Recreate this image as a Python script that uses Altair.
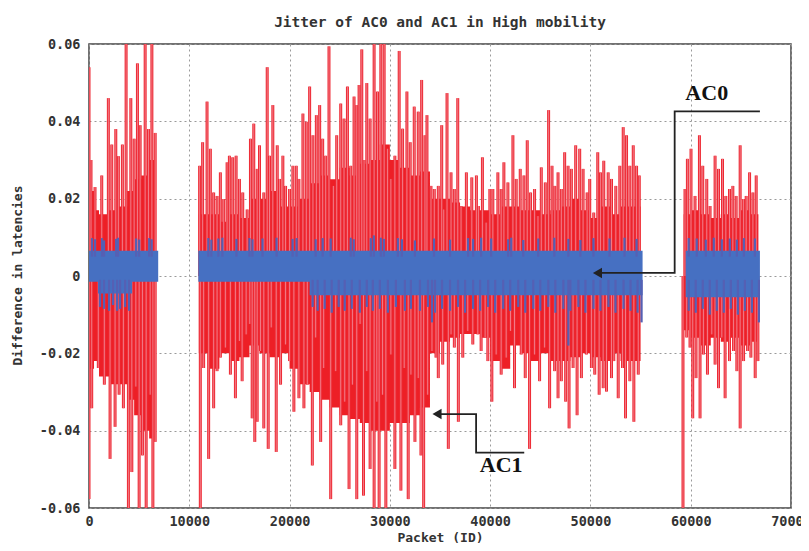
import altair as alt
import pandas as pd

TITLE = "Jitter of AC0 and AC1 in High mobility"
X_TITLE = "Packet (ID)"
Y_TITLE = "Difference in latencies"
X_TICKS = [0, 10000, 20000, 30000, 40000, 50000, 60000, 70000]
Y_TICKS = [-0.06, -0.04, -0.02, 0.0, 0.02, 0.04, 0.06]

# AC1 (red) upward spikes: packet id, jitter peak
red_up_x = [0, 200, 600, 1270, 1930, 2270, 2670, 2930, 3330, 3700, 4170, 4500, 4830, 5100, 5600, 5930, 6270, 6600,
            11030, 11330, 11770, 12100, 12430, 12770, 13100, 13430, 13770, 14000, 14330, 14670, 15000, 15330, 15770,
            16100, 16430, 16770, 17000, 17430, 17770, 18000, 18330, 18770, 19000, 19330, 19600, 20000, 20330, 20670,
            20930, 21330, 21670, 22000, 22330, 22670, 23000, 23300, 23600, 23930, 24370, 24700, 25100, 25430, 25770,
            26100, 26430, 26700, 26930, 27200, 27430, 27700, 28030, 28430, 28770, 29100, 29430, 29770, 30100, 30500,
            30930, 31270, 31700, 32030, 32430, 32830, 33170, 33500, 33700, 34100, 34430, 34830, 35170, 35370, 35700,
            36100, 36430, 36770, 37100, 37630, 38170, 38630, 38830, 39230, 39600, 39970, 40270, 40770, 41100, 41370,
            41770, 42270, 42600, 43000, 43370, 43700, 44030, 44430, 44770, 45100, 45500, 45830, 46170, 46450, 46770,
            47100, 47430, 47770, 48100, 48530, 48930, 49270, 49670, 49930, 50330, 50730, 51000, 51330, 51770, 52100,
            52530, 52930, 53270, 53600, 53930, 54270, 54600, 54870,
            59430, 59670, 60030, 60430, 60870, 61200, 61600, 61930, 62430, 62770, 63170, 63500, 63870, 64200, 64530,
            64930, 65270, 65530, 65870, 66200, 66530]
red_up_y = [0.054, 0.030, 0.023, 0.026, 0.046, 0.034, 0.038, 0.031, 0.034, 0.062, 0.046, 0.0355, 0.055, 0.039, 0.062, 0.038, 0.062, 0.037,
            0.0285, 0.0346, 0.0451, 0.0329, 0.0216, 0.0207, 0.0268, 0.0199, 0.0294, 0.0311, 0.0307, 0.0311, 0.0251, 0.0216, 0.0172,
            0.0355, 0.0394, 0.0277, 0.0338, 0.0216, 0.054, 0.0311, 0.0442, 0.0338, 0.0251, 0.0311, 0.0233, 0.0225, 0.0285, 0.0285,
            0.0251, 0.042, 0.0399, 0.049, 0.0364, 0.0416, 0.0442, 0.0355, 0.0311, 0.0594, 0.0233, 0.0364, 0.0446, 0.0407, 0.049,
            0.0285, 0.0464, 0.0442, 0.0494, 0.0586, 0.030, 0.0499, 0.0407, 0.062, 0.0477, 0.062, 0.062, 0.0329, 0.0251, 0.0311,
            0.0582, 0.0381, 0.0477, 0.0346, 0.0438, 0.0425, 0.0507, 0.0364, 0.0416, 0.0233, 0.0225, 0.0233, 0.039, 0.0172, 0.0473,
            0.0268, 0.0225, 0.046, 0.0181, 0.0268, 0.0255, 0.026, 0.0181, 0.0307, 0.0138, 0.0225, 0.0225, 0.0268, 0.0225, 0.0294,
            0.0242, 0.0364, 0.0251, 0.0277, 0.026, 0.0351, 0.0216, 0.0225, 0.0155, 0.0281, 0.0242, 0.0429, 0.0285, 0.0233, 0.0268,
            0.0225, 0.032, 0.0285, 0.0277, 0.0338, 0.0329, 0.0277, 0.0216, 0.0251, 0.0164, 0.032, 0.0268, 0.0298, 0.0268, 0.0251,
            0.0233, 0.0285, 0.0385, 0.0364, 0.0285, 0.0338, 0.0285, 0.026,
            0.0225, 0.0303, 0.0329, 0.0207, 0.0364, 0.0285, 0.0251, 0.0181, 0.0311, 0.0277, 0.0303, 0.0207, 0.0225, 0.0233, 0.0207,
            0.0338, 0.0199, 0.0207, 0.0268, 0.0216, 0.026]

# AC1 (red) downward spikes
red_dn_x = [0, 270, 930, 1530, 2100, 2600, 3000, 3430, 3930, 4270, 4670, 5000, 5330, 5700, 6100, 6370, 6600,
            11100, 11430, 11930, 12430, 12770, 13100, 13600, 14100, 14600, 15000, 15270, 15670, 16030, 16270, 16530,
            16770, 17100, 17430, 17870, 18170, 18670, 19100, 19600, 20000, 20430, 20930, 21430, 21770, 22270, 22600,
            23100, 23400, 24100, 24600, 25100, 25500, 25930, 26270, 26700, 27030, 27370, 27700, 28030, 28430, 28700,
            28930, 29270, 29600, 30100, 30500, 31100, 31430, 31830, 32100, 32500, 32830, 33100, 33370, 33770, 34200,
            34600, 34830, 35270, 35830, 36100, 36430, 36830, 37270, 37770, 38270, 38770, 39100, 39500, 39770, 40170,
            40600, 41100, 41600, 42030, 42430, 43100, 43500, 43930, 44430, 44930, 45430, 45930, 46430, 46770, 47100,
            47530, 47870, 48270, 48670, 49100, 49600, 50100, 50430, 50870, 51270, 51600, 52100, 52330, 52770, 53200,
            53500, 53930, 54330, 54770,
            59230, 59600, 59930, 60200, 60530, 60930, 61270, 61670, 62100, 62430, 62770, 63100, 63430, 63870, 64270,
            64600, 64930, 65270, 65670, 66000, 66430, 66700]
red_dn_y = [-0.0577, -0.0342, -0.0238, -0.0281, -0.0473, -0.039, -0.0307, -0.0342, -0.062, -0.0507, -0.0286, -0.062, -0.0464, -0.062, -0.0307, -0.062, -0.0429,
            -0.062, -0.0238, -0.0473, -0.0342, -0.0246, -0.0211, -0.0185, -0.0255, -0.0316, -0.0168, -0.0272, -0.0151, -0.0124, -0.0368, -0.0429,
            -0.0377, -0.0194, -0.0394, -0.0447, -0.0133, -0.0455, -0.0281, -0.0177, -0.022, -0.0351, -0.0316, -0.0342, -0.0281, -0.049, -0.0159,
            -0.0429, -0.0238, -0.0577, -0.0246, -0.0386, -0.0325, -0.0551, -0.0281, -0.0577, -0.0124, -0.0568, -0.0246, -0.0499, -0.062, -0.0325,
            -0.062, -0.0307, -0.062, -0.0203, -0.0499, -0.0555, -0.0238, -0.0577, -0.0255, -0.0429, -0.0264, -0.0464, -0.062, -0.0307, -0.0194,
            -0.0211, -0.0264, -0.0229, -0.0447, -0.0151, -0.0185, -0.0377, -0.0211, -0.0142, -0.0177, -0.0151, -0.0194, -0.0159, -0.022, -0.0325,
            -0.0203, -0.0255, -0.0211, -0.0142, -0.029, -0.0203, -0.0264, -0.0447, -0.0203, -0.0272, -0.0185, -0.0342, -0.0246, -0.0316, -0.0272,
            -0.0325, -0.0394, -0.0238, -0.036, -0.0264, -0.0203, -0.0238, -0.0255, -0.0307, -0.029, -0.0299, -0.0264, -0.022, -0.0316, -0.0238,
            -0.0368, -0.0272, -0.0377, -0.0255,
            -0.062, -0.0159, -0.0185, -0.0368, -0.0264, -0.0368, -0.0203, -0.0255, -0.0151, -0.0229, -0.029, -0.0159, -0.0316, -0.022, -0.0194,
            -0.0246, -0.0394, -0.022, -0.0194, -0.0211, -0.0264, -0.022]

# AC1 dense core envelope (segment, packet id, upper, lower)
core_seg = [1] * 10 + [2] * 45 + [3] * 9
core_x = [0, 500, 1000, 2000, 3000, 3800, 4500, 5200, 6000, 6650,
          10950, 12000, 13000, 14000, 15000, 16000, 17000, 18000, 19000, 20000, 21000, 22000, 23000, 24000, 25000,
          26000, 27000, 28000, 29000, 30000, 31000, 32000, 33000, 34000, 35000, 36000, 37000, 38000, 39000, 40000,
          41000, 42000, 43000, 44000, 45000, 46000, 47000, 48000, 49000, 50000, 51000, 52000, 53000, 54000, 55000,
          59300, 60000, 61000, 62000, 63000, 64000, 65000, 66000, 66750]
core_hi = [0.022, 0.017, 0.016, 0.017, 0.018, 0.022, 0.025, 0.026, 0.030, 0.032,
           0.016, 0.016, 0.014, 0.016, 0.015, 0.020, 0.020, 0.022, 0.018, 0.018, 0.020, 0.024, 0.026, 0.025, 0.028,
           0.026, 0.029, 0.030, 0.034, 0.030, 0.028, 0.026, 0.027, 0.020, 0.020, 0.019, 0.018, 0.017, 0.017, 0.016,
           0.018, 0.018, 0.017, 0.017, 0.016, 0.017, 0.018, 0.020, 0.017, 0.015, 0.018, 0.016, 0.018, 0.018, 0.016,
           0.016, 0.017, 0.016, 0.015, 0.016, 0.015, 0.017, 0.016, 0.016]
core_lo = [-0.024, -0.022, -0.026, -0.028, -0.028, -0.032, -0.036, -0.040, -0.042, -0.042,
           -0.020, -0.024, -0.020, -0.022, -0.021, -0.018, -0.020, -0.021, -0.020, -0.024, -0.028, -0.030, -0.032, -0.034, -0.036,
           -0.037, -0.038, -0.040, -0.040, -0.038, -0.038, -0.036, -0.034, -0.020, -0.017, -0.016, -0.015, -0.015, -0.016, -0.022,
           -0.024, -0.018, -0.020, -0.022, -0.020, -0.022, -0.022, -0.021, -0.020, -0.021, -0.022, -0.020, -0.022, -0.022, -0.021,
           -0.014, -0.016, -0.018, -0.016, -0.017, -0.016, -0.018, -0.017, -0.018]

# AC0 (blue) band (segment, packet id, upper, lower; step-after)
blue_seg = [1, 1, 1, 1, 2, 2, 2, 3, 3]
blue_x = [0, 900, 4300, 6900, 10900, 22000, 55200, 59500, 66900]
blue_hi = [0.0065, 0.0065, 0.0065, 0.0065, 0.0065, 0.0065, 0.0065, 0.0065, 0.0065]
blue_lo = [-0.0015, -0.0045, -0.0015, -0.0015, -0.0015, -0.005, -0.005, -0.0055, -0.0055]

# AC0 (blue) upward spikes
blue_up_x = [300, 600, 1300, 1500, 2700, 2900, 4700, 5000, 6000, 6250,
             11900, 12200, 12900, 13300, 14700, 16000, 16300, 17300, 18700, 20300, 20700, 22600, 23300,
             24100, 26100, 26400, 28100, 28400, 29100, 29400, 30800, 31200, 32500, 34400, 36000, 37800, 38300,
             39100, 40100, 41800, 42100, 43300, 44800, 46400, 47800, 49000, 50300, 51900, 53400, 54600,
             59800, 60600, 61500, 62300, 63100, 63900, 64600, 65300, 66400]
blue_up_y = [0.0098, 0.0095, 0.0098, 0.0092, 0.0096, 0.0099, 0.0097, 0.0094, 0.0098, 0.0095,
             0.0098, 0.0094, 0.0097, 0.0099, 0.0096, 0.0098, 0.0095, 0.0097, 0.0099, 0.0096, 0.0098, 0.0095, 0.0098,
             0.0097, 0.0099, 0.0095, 0.0098, 0.0105, 0.0099, 0.0096, 0.0098, 0.0095, 0.0092, 0.0097, 0.0094, 0.0098, 0.0096,
             0.0099, 0.0097, 0.0095, 0.0099, 0.0093, 0.0097, 0.0099, 0.0096, 0.0093, 0.0098, 0.0097, 0.0099, 0.0096,
             0.0098, 0.0097, 0.0094, 0.0099, 0.0095, 0.0097, 0.0094, 0.0098, 0.0097]

# AC0 (blue) downward spikes
blue_dn_x = [1100, 1500, 2000, 2400, 2800, 3100, 3600, 4000,
             22300, 22800, 23500, 24200, 24900, 25500, 26200, 27000, 27700, 28300, 29000, 29800, 30600, 31500,
             32100, 33000, 33800, 34200, 34500, 35200, 36000, 36800, 37500, 38300, 39000, 39800, 40500, 41300, 42000,
             42800, 43500, 44300, 45000, 45800, 46500, 47300, 47800, 48000, 48800, 49500, 50300, 51000, 51800, 52500,
             53300, 54000, 54700, 55100,
             59800, 60500, 61200, 61900, 62600, 63300, 64000, 64700, 65400, 66100, 66800]
blue_dn_y = [-0.008, -0.0085, -0.009, -0.0075, -0.009, -0.0085, -0.008, -0.009,
             -0.008, -0.009, -0.0085, -0.0095, -0.008, -0.009, -0.0085, -0.0095, -0.008, -0.009, -0.0085, -0.0095, -0.008, -0.009,
             -0.0085, -0.009, -0.008, -0.012, -0.0095, -0.0085, -0.009, -0.008, -0.0095, -0.0085, -0.009, -0.008, -0.0095, -0.0085, -0.009,
             -0.008, -0.0095, -0.0085, -0.009, -0.008, -0.0095, -0.0085, -0.018, -0.009, -0.008, -0.0095, -0.0085, -0.009, -0.008, -0.0095,
             -0.0085, -0.009, -0.0095, -0.012,
             -0.009, -0.0095, -0.0085, -0.010, -0.009, -0.0095, -0.0085, -0.010, -0.009, -0.0095, -0.012]

# Annotations
ann_text = ["AC0", "AC1"]
ann_x = [61600, 41100]
ann_y = [0.0472, -0.0490]
arrow_name = ["AC0", "AC0", "AC0", "AC0", "AC1", "AC1", "AC1", "AC1"]
arrow_i = [0, 1, 2, 3, 0, 1, 2, 3]
arrow_x = [66900, 58400, 58400, 50700, 43400, 38600, 38600, 34700]
arrow_y = [0.0426, 0.0426, 0.0008, 0.0008, -0.0457, -0.0457, -0.0357, -0.0357]
head_x = [50700, 34700]
head_y = [0.0008, -0.0357]

MONO = "DejaVu Sans Mono"
RED_CORE = "#ed1f26"
RED_SPIKE = "#ee2a34"
RED_HILITE = "#f27a86"
BLUE = "#4670c2"
BLUE_SPIKE = "#5560b4"

xs = alt.Scale(domain=[0, 70000], nice=False, zero=False)
ys = alt.Scale(domain=[-0.06, 0.06], nice=False, zero=False)

xaxis = alt.Axis(values=X_TICKS, format="d", grid=True, gridDash=[2, 3], gridColor="#9a9a9a", gridWidth=1,
                 ticks=False, domain=False, labelFont=MONO, labelFontWeight="bold", labelFontSize=13.5,
                 labelColor="#333333", labelPadding=6, labelFlush=False, labelOverlap=False,
                 titleFont=MONO, titleFontWeight="bold", titleFontSize=13, titleColor="#333333",
                 titleX=351, titleY=29, titleBaseline="middle", titleAlign="center")
yaxis = alt.Axis(values=Y_TICKS, grid=True, gridDash=[2, 3], gridColor="#9a9a9a", gridWidth=1,
                 ticks=False, domain=False, labelFont=MONO, labelFontWeight="bold", labelFontSize=13.5,
                 labelColor="#333333", labelPadding=9,
                 labelExpr="abs(datum.value) < 1e-9 ? '0' : (datum.value < 0 ? '-' : '') + format(abs(datum.value), '.2f')",
                 titleFont=MONO, titleFontWeight="bold", titleFontSize=13, titleColor="#333333",
                 titleX=-72, titleY=231, titleAngle=270, titleBaseline="middle", titleAlign="center")


def X():
    return alt.X("x:Q", scale=xs, axis=xaxis, title=X_TITLE)


def Y():
    return alt.Y("y:Q", scale=ys, axis=yaxis, title=Y_TITLE)


core_df = pd.DataFrame({"seg": core_seg, "x": core_x, "y": core_lo, "y2": core_hi})
up_df = pd.DataFrame({"x": red_up_x, "y": [0.0] * len(red_up_x), "y2": red_up_y})
dn_df = pd.DataFrame({"x": red_dn_x, "y": [0.0] * len(red_dn_x), "y2": red_dn_y})
blue_df = pd.DataFrame({"seg": blue_seg, "x": blue_x, "y": blue_lo, "y2": blue_hi})
bup_df = pd.DataFrame({"x": blue_up_x, "y": [0.005] * len(blue_up_x), "y2": blue_up_y})
bdn_df = pd.DataFrame({"x": blue_dn_x, "y": [-0.001] * len(blue_dn_x), "y2": blue_dn_y})
ann_df = pd.DataFrame({"x": ann_x, "y": ann_y, "t": ann_text})
arr_df = pd.DataFrame({"name": arrow_name, "i": arrow_i, "x": arrow_x, "y": arrow_y})
head_df = pd.DataFrame({"x": head_x, "y": head_y})

core = alt.Chart(core_df).mark_area(color=RED_CORE, interpolate="step-after", clip=True).encode(
    x=X(), y=Y(), y2="y2:Q", detail="seg:N")
up = alt.Chart(up_df).mark_rule(color=RED_SPIKE, strokeWidth=3, clip=True).encode(x=X(), y=Y(), y2="y2:Q")
dn = alt.Chart(dn_df).mark_rule(color=RED_SPIKE, strokeWidth=3, clip=True).encode(x=X(), y=Y(), y2="y2:Q")
up_hi = alt.Chart(up_df).mark_rule(color=RED_HILITE, strokeWidth=1, clip=True).encode(x=X(), y=Y(), y2="y2:Q")
dn_hi = alt.Chart(dn_df).mark_rule(color=RED_HILITE, strokeWidth=1, clip=True).encode(x=X(), y=Y(), y2="y2:Q")
blue = alt.Chart(blue_df).mark_area(color=BLUE, interpolate="step-after", clip=True).encode(
    x=X(), y=Y(), y2="y2:Q", detail="seg:N")
bup = alt.Chart(bup_df).mark_rule(color=BLUE_SPIKE, strokeWidth=2.2, clip=True).encode(x=X(), y=Y(), y2="y2:Q")
bdn = alt.Chart(bdn_df).mark_rule(color=BLUE_SPIKE, strokeWidth=2.2, clip=True).encode(x=X(), y=Y(), y2="y2:Q")
arrows = alt.Chart(arr_df).mark_line(color="#222222", strokeWidth=1.8).encode(
    x=X(), y=Y(), order="i:Q", detail="name:N")
heads = alt.Chart(head_df).mark_point(shape="triangle-left", filled=True, size=110, color="#222222", opacity=1).encode(
    x=X(), y=Y())
texts = alt.Chart(ann_df).mark_text(font="Liberation Serif", fontWeight="bold", fontSize=22, color="#111111").encode(
    x=X(), y=Y(), text="t:N")

chart = alt.layer(core, up, dn, up_hi, dn_hi, blue, bup, bdn, arrows, heads, texts).properties(
    width=702, height=464,
    title=alt.TitleParams(TITLE, font=MONO, fontWeight="bold", fontSize=14.5, color="#333333",
                          offset=7, anchor="middle"),
    padding={"left": 81, "top": 36, "right": 10, "bottom": 35},
    autosize=alt.AutoSizeParams(type="none"),
).configure_view(stroke="#444444", strokeWidth=1.5)

chart.save("out.html", embed_options={"renderer": "svg", "actions": False})
